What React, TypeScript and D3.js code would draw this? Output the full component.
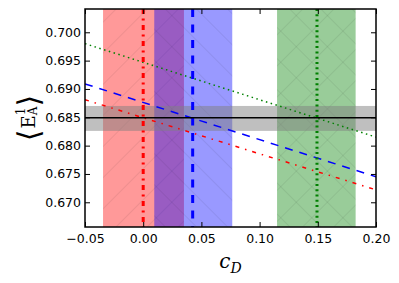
import React, { useEffect, useRef } from "react";
import * as d3 from "d3";

// data
const lineX = [-0.05, 0.2];
const greenLine = [0.698, 0.6815];
const blueLine = [0.6909, 0.6745];
const redLine = [0.6881, 0.6722];

const bandCenters = [0.0, 0.0425, 0.1493];
const bandLow = [-0.0345, 0.0095, 0.115];
const bandHigh = [0.035, 0.0765, 0.1825];

const refValue = 0.6849;
const refLow = 0.6826;
const refHigh = 0.687;

const xTicks = [-0.05, 0, 0.05, 0.1, 0.15, 0.2];
const xTickLabels = ["\u22120.05", "0.00", "0.05", "0.10", "0.15", "0.20"];
const yTicks = [0.67, 0.675, 0.68, 0.685, 0.69, 0.695, 0.7];
const yTickLabels = ["0.670", "0.675", "0.680", "0.685", "0.690", "0.695", "0.700"];

const width = 399;
const height = 283;
const margin = { top: 9, right: 23, bottom: 56, left: 85 };

const bandStyles = [
  { color: "#ff0000", hatch: ["hatchF"], dash: "5,4.5,2,4.5" },
  { color: "#0000ff", hatch: ["hatchB"], dash: "8,7.5" },
  { color: "#008000", hatch: ["hatchF", "hatchB"], dash: "2,3.3" },
];

const lineStyles = [
  { values: greenLine, color: "#008000", dash: "1.5,3.5" },
  { values: blueLine, color: "#0000ff", dash: "8,7" },
  { values: redLine, color: "#ff0000", dash: "4,6,1.5,6" },
];

const App = () => {
  const xRef = useRef<SVGGElement>(null);
  const yRef = useRef<SVGGElement>(null);
  const topRef = useRef<SVGGElement>(null);
  const rightRef = useRef<SVGGElement>(null);

  const x = d3
    .scaleLinear()
    .domain([-0.05, 0.2])
    .range([margin.left, width - margin.right]);
  const y = d3
    .scaleLinear()
    .domain([0.66564, 0.70411])
    .range([height - margin.bottom, margin.top]);

  useEffect(() => {
    const fmtX = (d: any) => xTickLabels[xTicks.indexOf(d)];
    const fmtY = (d: any) => yTickLabels[yTicks.indexOf(d)];

    const style = (g: any) => {
      g.select(".domain").remove();
      g.selectAll(".tick line").attr("stroke", "#000").attr("stroke-width", 1);
      g.selectAll(".tick text")
        .attr("fill", "#000")
        .style("font-family", "'DejaVu Sans', sans-serif")
        .style("font-size", "12.5px");
    };

    d3.select(xRef.current)
      .call(d3.axisBottom(x).tickValues(xTicks).tickFormat(fmtX).tickSizeInner(-5).tickSizeOuter(0).tickPadding(7))
      .call(style);
    d3.select(yRef.current)
      .call(d3.axisLeft(y).tickValues(yTicks).tickFormat(fmtY).tickSizeInner(-5).tickSizeOuter(0).tickPadding(4))
      .call(style);
    d3.select(topRef.current)
      .call(d3.axisTop(x).tickValues(xTicks).tickFormat(() => "").tickSizeInner(-5).tickSizeOuter(0))
      .call(style);
    d3.select(rightRef.current)
      .call(d3.axisRight(y).tickValues(yTicks).tickFormat(() => "").tickSizeInner(-5).tickSizeOuter(0))
      .call(style);
  }, []);

  const line = d3
    .line<number>()
    .x((_, i) => x(lineX[i]))
    .y((d) => y(d));

  const [x0, x1] = x.range();
  const [y0, y1] = y.range();

  return (
    <svg
      width={width}
      height={height}
      style={{ position: "absolute", left: 0, top: 0, background: "#fff" }}
    >
      <defs>
        <pattern id="hatchF" width="22" height="22" patternUnits="userSpaceOnUse" patternTransform="rotate(45)">
          <line x1="0" y1="0" x2="0" y2="22" stroke="#000" strokeOpacity="0.13" strokeWidth="1" />
        </pattern>
        <pattern id="hatchB" width="22" height="22" patternUnits="userSpaceOnUse" patternTransform="rotate(-45)">
          <line x1="0" y1="0" x2="0" y2="22" stroke="#000" strokeOpacity="0.13" strokeWidth="1" />
        </pattern>
        <clipPath id="plot">
          <rect x={x0} y={y1} width={x1 - x0} height={y0 - y1} />
        </clipPath>
      </defs>

      <g clipPath="url(#plot)">
        {bandCenters.map((c, i) => (
          <g key={"band" + i}>
            <rect
              x={x(bandLow[i])}
              y={y1}
              width={x(bandHigh[i]) - x(bandLow[i])}
              height={y0 - y1}
              fill={bandStyles[i].color}
              fillOpacity={0.4}
            />
            {bandStyles[i].hatch.map((h) => (
              <rect
                key={h}
                x={x(bandLow[i])}
                y={y1}
                width={x(bandHigh[i]) - x(bandLow[i])}
                height={y0 - y1}
                fill={`url(#${h})`}
              />
            ))}
          </g>
        ))}

        <rect
          x={x0}
          y={y(refHigh)}
          width={x1 - x0}
          height={y(refLow) - y(refHigh)}
          fill="#808080"
          fillOpacity={0.5}
        />

        {lineStyles.map((s, i) => (
          <path
            key={"line" + i}
            d={line(s.values) || ""}
            fill="none"
            stroke={s.color}
            strokeWidth={1.5}
            strokeDasharray={s.dash}
          />
        ))}

        {bandCenters.map((c, i) => (
          <line
            key={"v" + i}
            x1={x(c)}
            x2={x(c)}
            y1={y1}
            y2={y0}
            stroke={bandStyles[i].color}
            strokeWidth={3}
            strokeDasharray={bandStyles[i].dash}
          />
        ))}

        <line x1={x0} x2={x1} y1={y(refValue)} y2={y(refValue)} stroke="#000" strokeWidth={1.5} />
      </g>

      <g ref={xRef} transform={`translate(0,${y0})`} />
      <g ref={yRef} transform={`translate(${x0},0)`} />
      <g ref={topRef} transform={`translate(0,${y1})`} />
      <g ref={rightRef} transform={`translate(${x1},0)`} />

      <rect x={x0} y={y1} width={x1 - x0} height={y0 - y1} fill="none" stroke="#000" strokeWidth={1.5} />

      <text
        x={(x0 + x1) / 2}
        y={268}
        textAnchor="middle"
        style={{ fontFamily: "'DejaVu Serif', serif", fontStyle: "italic", fontSize: 20 }}
      >
        c
        <tspan dy={4.5} fontSize={14}>D</tspan>
      </text>

      <text
        transform={`translate(28,${(y0 + y1) / 2}) rotate(-90)`}
        textAnchor="middle"
        dominantBaseline="central"
        style={{ fontFamily: "'DejaVu Serif', serif", fontSize: 18 }}
      >
        <tspan fontFamily="'DejaVu Sans', sans-serif" fontSize={30} dy={0}>{"\u27E8"}</tspan>
        <tspan dx={1}>E</tspan>
        <tspan fontSize={12} dy={-7}>1</tspan>
        <tspan fontSize={12} dx={-7.5} dy={12}>A</tspan>
        <tspan fontFamily="'DejaVu Sans', sans-serif" fontSize={30} dy={-5}>{"\u27E9"}</tspan>
      </text>
    </svg>
  );
};

export default App;
